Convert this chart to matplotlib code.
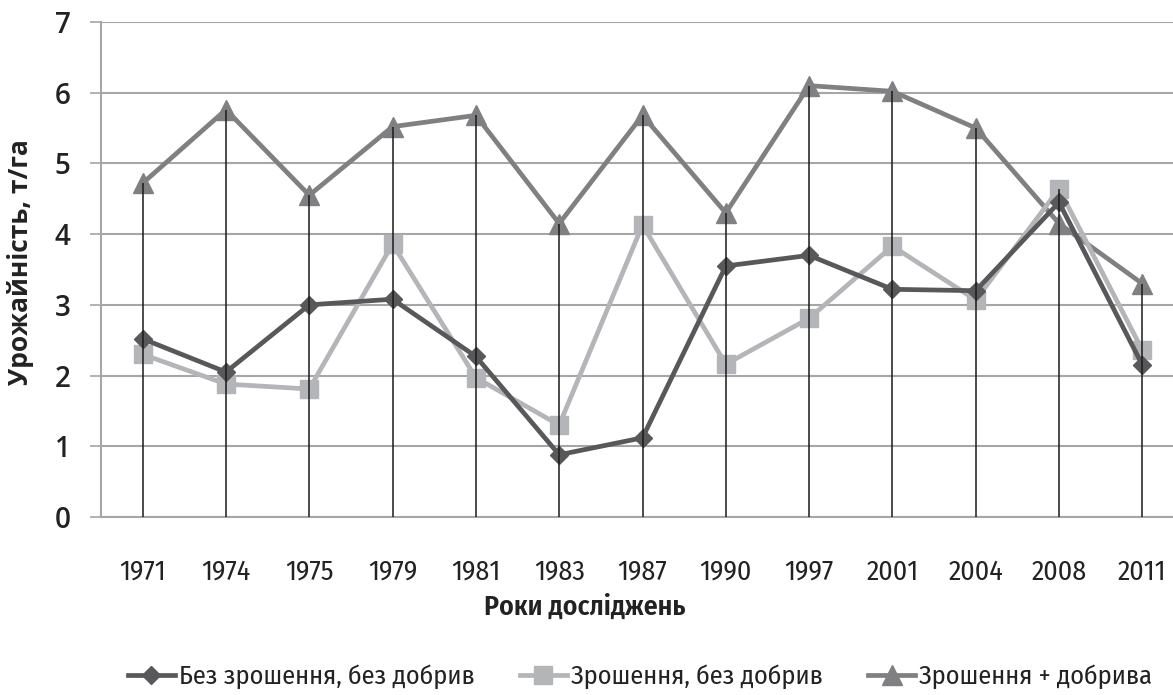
import numpy as np
import matplotlib
matplotlib.use("Agg")
import matplotlib.pyplot as plt
from matplotlib import font_manager

# Yield data, t/ha
years = ['1971', '1974', '1975', '1979', '1981', '1983', '1987',
         '1990', '1997', '2001', '2004', '2008', '2011']
no_irrig_no_fert = [2.52, 2.05, 3.0, 3.08, 2.27, 0.88, 1.12,
                    3.55, 3.7, 3.22, 3.2, 4.45, 2.15]
irrig_no_fert = [2.3, 1.88, 1.81, 3.86, 1.97, 1.3, 4.13,
                 2.16, 2.81, 3.83, 3.07, 4.64, 2.36]
irrig_fert = [4.72, 5.76, 4.55, 5.52, 5.68, 4.15, 5.68,
              4.3, 6.1, 6.02, 5.5, 4.15, 3.3]
labels = ['Без зрошення, без добрив', 'Зрошення, без добрив', 'Зрошення + добрива']


def pick_narrow():
    # first condensed family that also has Cyrillic glyphs
    wanted = ['Fira Sans Condensed', 'PT Sans Narrow', 'Roboto Condensed',
              'Open Sans Condensed', 'IBM Plex Sans Condensed', 'Ubuntu Condensed',
              'Encode Sans Condensed', 'Asap Condensed']
    fonts = font_manager.fontManager.ttflist
    for name in wanted:
        for f in fonts:
            if f.name == name and f.style == 'normal':
                try:
                    cmap = font_manager.get_font(f.fname).get_charmap()
                except Exception:
                    continue
                if 0x436 in cmap:
                    return name
    return 'Liberation Sans'


text_font = pick_narrow()
plt.rcParams['font.family'] = [text_font, 'DejaVu Sans']
tsize = 20 if text_font != 'Liberation Sans' else 17

fig = plt.figure(figsize=(11.73, 6.95), dpi=100)
ax = fig.add_axes([101 / 1173, 178 / 695, 1083 / 1173, 495 / 695])

x = np.arange(len(years))

ax.plot(x, irrig_fert, color='#808083', lw=3.4, marker='^', ms=15,
        label=labels[2], zorder=3)
ax.plot(x, irrig_no_fert, color='#b4b5b8', lw=3.4, marker='s', ms=13,
        label=labels[1], zorder=4)
ax.plot(x, no_irrig_no_fert, color='#58585a', lw=3.4, marker='D', ms=9.5,
        label=labels[0], zorder=5)

# drop lines from the highest point down to the axis
tops = np.max([no_irrig_no_fert, irrig_no_fert, irrig_fert], axis=0)
ax.vlines(x, 0, tops, color='#1a1a1a', lw=1.1, zorder=6)

ax.set_xlim(-0.5, len(years) - 0.5)
ax.set_ylim(0, 7)
ax.set_yticks(range(0, 8))
ax.set_xticks(x)
ax.set_xticklabels(years, fontsize=tsize, color='#222222')
ax.tick_params(axis='x', length=0, pad=30)
ax.tick_params(axis='y', length=8, width=1.2, color='#a6a6a6', pad=14)
for lbl in ax.get_yticklabels():
    lbl.set_family(['Open Sans', 'DejaVu Sans'])
    lbl.set_fontsize(20)
    lbl.set_fontweight('semibold')
    lbl.set_color('#222222')

ax.grid(axis='y', color='#a6a6a6', lw=1.5)
ax.set_axisbelow(True)
for s in ['top', 'right']:
    ax.spines[s].set_visible(False)
ax.spines['left'].set_color('#a6a6a6')
ax.spines['bottom'].set_color('#a6a6a6')
ax.spines['left'].set_linewidth(1.5)
ax.spines['bottom'].set_linewidth(1.5)

ax.set_xlabel('Роки досліджень', fontsize=tsize, fontweight='semibold', color='#222222')
ax.xaxis.set_label_coords(0.447, -0.155)
ax.set_ylabel('Урожайність, т/га', fontsize=19, fontweight='bold', color='#222222',
              family=['Open Sans', 'DejaVu Sans'])
ax.yaxis.set_label_coords(-0.062, 0.515)

handles, labs = ax.get_legend_handles_labels()
order = [2, 1, 0]
fig.legend([handles[i] for i in order], [labs[i] for i in order],
           loc='center', bbox_to_anchor=(640 / 1173, 1 - 677 / 695), ncol=3, frameon=False,
           fontsize=19, handlelength=1.8, handletextpad=0.15, columnspacing=1.7,
           labelcolor='#222222')

fig.savefig('out.png', dpi=100)
